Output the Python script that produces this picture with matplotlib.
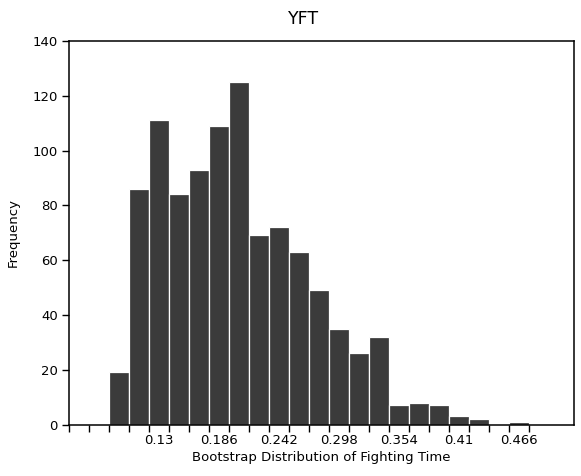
import matplotlib.pyplot as plt
import numpy as np

# bootstrap histogram of fighting time (YFT)
bin_width = 0.056 / 3
first_center = 0.13 - 2 * bin_width
counts = [19, 86, 111, 84, 93, 109, 125, 69, 72, 63, 49,
          35, 26, 32, 7, 8, 7, 3, 2, 0, 1]
tick_values = [0.13, 0.186, 0.242, 0.298, 0.354, 0.41, 0.466]
tick_labels = ['0.13', '0.186', '0.242', '0.298', '0.354', '0.41', '0.466']
y_ticks = [0, 20, 40, 60, 80, 100, 120, 140]

centers = first_center + bin_width * np.arange(len(counts))
edges = first_center - bin_width / 2 + bin_width * np.arange(-2, len(counts) + 1)

W, H = 581, 476
fig = plt.figure(figsize=(W / 100, H / 100), dpi=100)
ax = fig.add_axes([69 / W, (H - 424.5) / H, (574 - 69) / W, (424.5 - 41) / H])

ax.bar(centers, counts, width=bin_width, color='#3b3b3b',
       edgecolor='white', linewidth=0.9)

ax.set_xlim(edges[0], edges[0] + 505 / 20 * bin_width)
ax.set_ylim(0, 140)

ax.set_xticks(tick_values)
ax.set_xticklabels(tick_labels)
ax.set_xticks(edges, minor=True)
ax.tick_params(axis='x', which='major', length=0, pad=7, labelsize=9.5)
ax.tick_params(axis='x', which='minor', length=5, width=1, direction='out')

ax.set_yticks(y_ticks)
ax.tick_params(axis='y', which='major', length=5, width=1, pad=3, labelsize=9.5)

for s in ax.spines.values():
    s.set_linewidth(1.1)

ax.set_xlabel('Bootstrap Distribution of Fighting Time', fontsize=9.5, labelpad=3)
ax.set_ylabel('Frequency', fontsize=9.5)
ax.yaxis.set_label_coords(-(69 - 20) / 505, 0.5)

fig.text(304 / W, 1 - 19 / H, 'YFT', ha='center', va='center', fontsize=12.5)

fig.savefig('out.png', dpi=100)
